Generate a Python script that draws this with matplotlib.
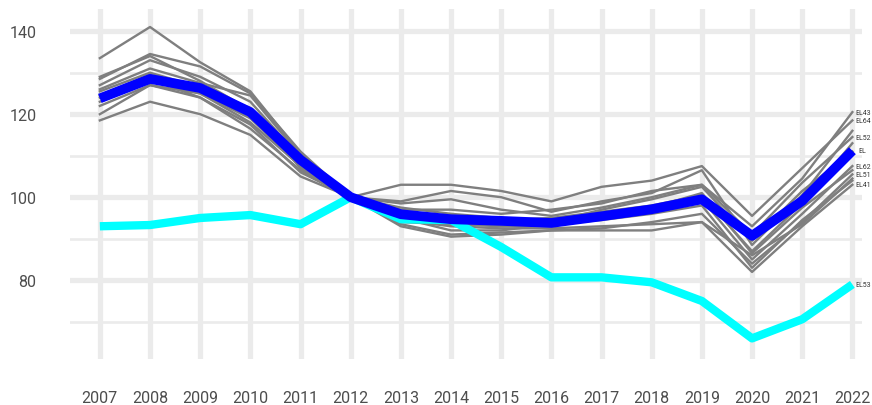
import matplotlib.pyplot as plt
from matplotlib.ticker import MultipleLocator

plt.rcParams['font.family'] = ['Roboto', 'DejaVu Sans']

years = list(range(2007, 2023))

# regional index values (2012 = 100)
el43 = [133.5, 141.0, 132.5, 125.5, 110.5, 100, 98.5, 99.5, 97.0, 95.5, 97.5, 100.0, 103.0, 93.0, 104.5, 120.5]
el64 = [128.5, 134.5, 131.5, 125.0, 111.0, 100, 103.0, 103.0, 101.5, 99.0, 102.5, 104.0, 107.5, 95.5, 107.0, 118.5]
el52 = [126.0, 131.0, 127.5, 124.5, 110.0, 100, 97.0, 97.0, 96.0, 97.0, 98.5, 101.5, 103.0, 91.0, 103.5, 114.5]
el42 = [129.0, 134.0, 128.0, 121.0, 107.0, 100, 99.0, 101.5, 100.0, 96.5, 99.0, 101.0, 106.5, 88.5, 100.5, 116.0]
el30 = [125.5, 130.0, 126.5, 119.5, 108.0, 100, 95.0, 94.0, 94.5, 95.0, 96.5, 98.0, 100.5, 87.0, 98.5, 113.0]
el62 = [122.0, 127.0, 125.0, 118.0, 107.5, 100, 94.0, 93.5, 93.0, 93.0, 95.0, 97.0, 99.5, 85.0, 96.0, 107.5]
el65 = [124.5, 129.5, 126.0, 121.5, 109.0, 100, 96.0, 95.5, 93.5, 94.5, 96.0, 97.5, 101.0, 86.5, 97.5, 106.5]
el51 = [120.0, 127.0, 124.0, 117.5, 106.0, 100, 93.5, 91.0, 91.5, 92.0, 92.5, 94.0, 96.0, 84.0, 94.0, 105.5]
el61 = [123.0, 128.0, 125.0, 119.0, 107.5, 100, 95.0, 92.0, 92.0, 93.5, 94.5, 96.0, 98.0, 83.0, 94.5, 104.0]
el41 = [118.5, 123.0, 120.0, 115.0, 105.0, 100, 93.0, 90.5, 91.0, 92.0, 92.0, 92.0, 94.0, 82.0, 93.0, 103.0]
el54 = [127.0, 133.0, 129.0, 123.0, 109.5, 100, 97.5, 96.0, 95.0, 94.0, 97.0, 99.5, 102.5, 89.5, 101.5, 111.0]
el63 = [124.0, 128.5, 124.0, 116.5, 106.5, 100, 94.5, 93.0, 92.5, 92.5, 93.0, 93.5, 94.0, 86.0, 93.5, 104.5]
el53 = [93.0, 93.3, 95.0, 95.7, 93.5, 100, 94.7, 94.5, 88.0, 80.7, 80.7, 79.5, 75.0, 66.0, 70.6, 79.0]
el = [123.8, 128.5, 126.3, 120.5, 109.0, 100, 95.9, 94.7, 94.3, 93.8, 95.4, 97.1, 99.5, 90.7, 99.1, 111.2]

grey = {'EL43': el43, 'EL64': el64, 'EL52': el52, 'EL42': el42, 'EL30': el30,
        'EL62': el62, 'EL65': el65, 'EL51': el51, 'EL61': el61, 'EL41': el41,
        'EL54': el54, 'EL63': el63}
labelled = ['EL43', 'EL64', 'EL52', 'EL62', 'EL51', 'EL41']

fig = plt.figure(figsize=(8.72, 4.06), dpi=100)
ax = fig.add_axes([0.080, 0.113, 0.909, 0.862])

for name, vals in grey.items():
    ax.plot(years, vals, color='#7f7f7f', lw=1.7, zorder=2)
ax.plot(years, el53, color='#00ffff', lw=6, zorder=3, solid_capstyle='butt')
ax.plot(years, el, color='#0000ff', lw=7, zorder=4, solid_capstyle='butt')

for name in labelled:
    ax.text(years[-1] + 0.05, grey[name][-1], name, fontsize=5, color='#333333',
            va='center', ha='left', clip_on=False, zorder=5)
ax.text(years[-1] + 0.12, el[-1], 'EL', fontsize=5, color='#333333',
        va='center', ha='left', clip_on=False, zorder=5)
ax.text(years[-1] + 0.05, el53[-1], 'EL53', fontsize=5, color='#333333',
        va='center', ha='left', clip_on=False, zorder=5)

ax.set_xlim(2006.4, 2022.2)
ax.set_ylim(61, 145.3)
ax.set_xticks(years)
ax.yaxis.set_major_locator(MultipleLocator(20))
ax.yaxis.set_minor_locator(MultipleLocator(10))
ax.grid(True, which='major', color='#ebebeb', lw=3.8, zorder=0)
ax.grid(True, which='minor', axis='y', color='#ebebeb', lw=1.9, zorder=0)
ax.set_axisbelow(True)
for s in ax.spines.values():
    s.set_visible(False)
ax.tick_params(which='both', length=0, labelsize=11.5, labelcolor='#4d4d4d')
ax.tick_params(axis='x', pad=22)
ax.tick_params(axis='y', pad=24)

fig.savefig('out.png', dpi=100)
